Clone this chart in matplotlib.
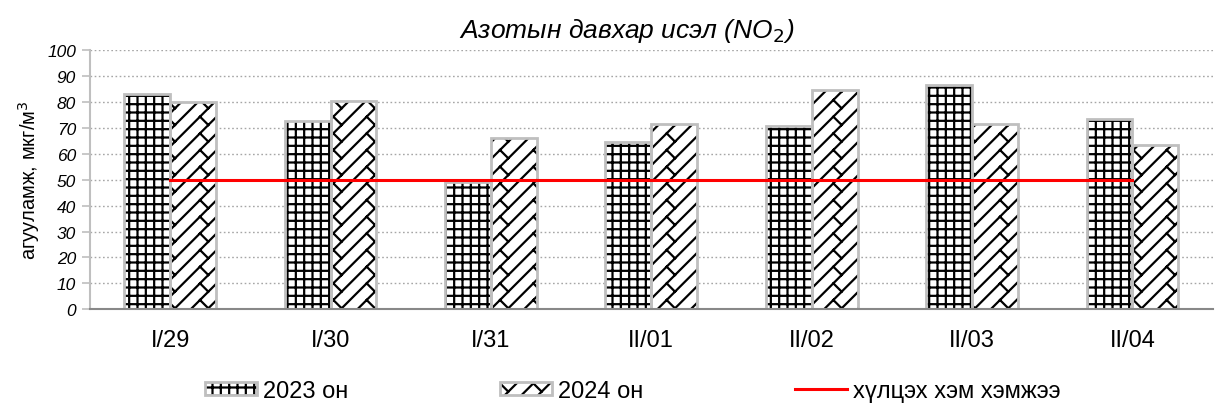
import matplotlib
matplotlib.use("Agg")
import matplotlib.pyplot as plt
import matplotlib.hatch as mhatch
from matplotlib.path import Path
from matplotlib.legend_handler import HandlerTuple
from matplotlib.patches import Patch
import numpy as np

plt.rcParams['font.family'] = ['Liberation Sans', 'DejaVu Sans']
plt.rcParams['hatch.linewidth'] = 1.6


class DiagonalBrickHatch(mhatch.HatchPatternBase):
    """'/' drawn as a diagonal brick pattern (long / lines with short \\ ticks)."""

    def __init__(self, hatch, density):
        n = int(hatch.count('/') * density)
        if n % 2:
            n += 1
        self.n = n
        if n == 0:
            self.num_vertices = 0
            return
        self.offsets = np.arange(-n, n + 1) / n
        self.ticks = []
        step = 1.0 / n
        for k, x0 in enumerate(self.offsets):
            shift = 0.0 if k % 2 == 0 else step
            ts = np.arange(shift, 1.0 + 1e-9, 2 * step)
            for t in ts:
                self.ticks.append((x0 + t, t, x0 + t + step / 2, t - step / 2))
        self.num_vertices = 2 * len(self.offsets) + 2 * len(self.ticks)

    def set_vertices_and_codes(self, vertices, codes):
        if self.n == 0:
            return
        i = 0
        for x0 in self.offsets:
            vertices[i] = (x0, 0.0)
            vertices[i + 1] = (x0 + 1.0, 1.0)
            codes[i] = Path.MOVETO
            codes[i + 1] = Path.LINETO
            i += 2
        for (a, b, c, d) in self.ticks:
            vertices[i] = (a, b)
            vertices[i + 1] = (c, d)
            codes[i] = Path.MOVETO
            codes[i + 1] = Path.LINETO
            i += 2


mhatch._hatch_types = [DiagonalBrickHatch if t is mhatch.NorthEastHatch else t
                       for t in mhatch._hatch_types]

categories = ["I/29", "I/30", "I/31", "II/01", "II/02", "II/03", "II/04"]
values_2023 = [83, 72.4, 49, 64.5, 70.5, 86.5, 73.5]
values_2024 = [80, 80.4, 66, 71.4, 84.6, 71.3, 63.5]
limit = [50, 50, 50, 50, 50, 50, 50]
yticks = [0, 10, 20, 30, 40, 50, 60, 70, 80, 90, 100]

fig = plt.figure(figsize=(12.19, 4.10), dpi=100)
ax = fig.add_axes([0.0738, 0.243, 0.921, 0.633])

x = np.arange(len(categories))
w = 0.286
edge = '#BFBFBF'
ax.bar(x - w / 2, values_2023, w, facecolor='white', edgecolor='black',
       linewidth=0, hatch='++', zorder=3)
ax.bar(x - w / 2, values_2023, w, fill=False, edgecolor=edge, linewidth=2.0, zorder=3.1)
ax.bar(x + w / 2, values_2024, w, facecolor='white', edgecolor='black',
       linewidth=0, hatch='/', zorder=3)
ax.bar(x + w / 2, values_2024, w, fill=False, edgecolor=edge, linewidth=2.0, zorder=3.1)
ln, = ax.plot(x, limit, color='#FF0000', linewidth=2.2, zorder=4)

ax.set_xlim(-0.5, len(categories) - 0.5)
ax.set_ylim(0, 100)
ax.set_yticks(yticks)
ax.set_yticklabels([str(v) for v in yticks], fontsize=12.5, style='italic')
ax.set_xticks(x)
ax.set_xticklabels(categories, fontsize=17)
ax.tick_params(axis='x', length=0, pad=14)
ax.tick_params(axis='y', length=6, color='#BFBFBF', width=1.2, pad=4)
ax.yaxis.grid(True, linestyle=(0, (1.2, 1.8)), color='#A6A6A6', linewidth=1, zorder=0)
ax.set_axisbelow(True)
for s in ['top', 'right']:
    ax.spines[s].set_visible(False)
ax.spines['left'].set_color('#BFBFBF')
ax.spines['left'].set_linewidth(1.5)
ax.spines['bottom'].set_color('#888888')
ax.spines['bottom'].set_linewidth(1.5)
ax.spines['bottom'].set_zorder(5)

ax.set_ylabel('агууламж, мкг/м$^3$', fontsize=14.5, labelpad=4)
fig.text(0.514, 0.925, 'Азотын давхар исэл (NO$_2$)', fontsize=19, style='italic',
         ha='center', va='center')

h1 = (Patch(facecolor='white', edgecolor='black', linewidth=0, hatch='++'),
      Patch(fill=False, edgecolor=edge, linewidth=2.0))
h2 = (Patch(facecolor='white', edgecolor='black', linewidth=0, hatch='/'),
      Patch(fill=False, edgecolor=edge, linewidth=2.0))
leg = fig.legend(handles=[h1, h2, ln], labels=['2023 он', '2024 он', 'хүлцэх хэм хэмжээ'],
                 handler_map={tuple: HandlerTuple(ndivide=1, pad=0)},
                 loc='center', bbox_to_anchor=(0.519, 0.044),
                 ncol=3, frameon=False, fontsize=17, handlelength=2.2, handleheight=0.5,
                 handletextpad=0.25, columnspacing=6.42)

fig.savefig('out.png', dpi=100)
